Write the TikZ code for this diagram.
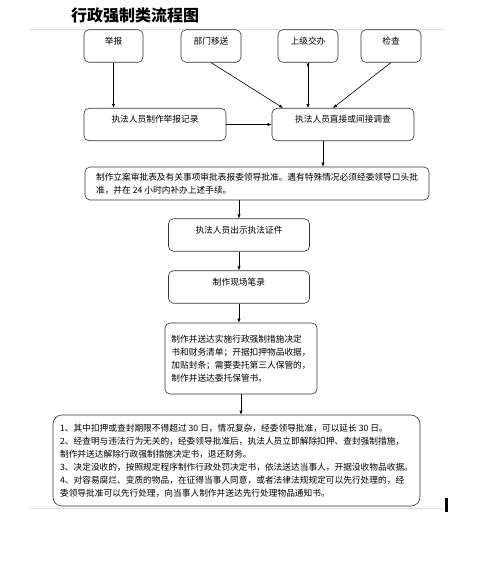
\documentclass[tikz,border=0pt]{standalone}
\usepackage{fontspec}
\setmainfont{Noto Sans CJK SC}
\usetikzlibrary{arrows.meta,positioning,calc,decorations.markings}

\tikzset{
  box/.style={draw=black!80, rounded corners=5pt, line width=0.6pt, font=\fontsize{8.7}{13}\selectfont},
  topbox/.style={box, inner ysep=0pt, text height=14.5pt, text depth=18pt},
  arr/.style={-{Latex[length=4pt,width=3.2pt]}, line width=0.6pt},
  midarr/.style={decoration={markings, mark=at position 5pt with {\arrow{Latex[length=4pt,width=3.2pt]}}}, postaction={decorate}},
}

\begin{document}
\begin{tikzpicture}[x=1pt,y=-1pt]
    \useasboundingbox (0,0) rectangle (486,570);
    \fill[white] (0,0) rectangle (486,570);

    % Title
    \node [font=\fontsize{16}{16}\selectfont\bfseries] (title) at (135,15) {行政强制类流程图};
    \draw [black!12, line width=0.8pt] (30,29) -- (444,29);

    % Sources
    \node [topbox, minimum width=59pt] (jubao) at (113.5,46) {举报};
    \node [topbox, minimum width=60pt] (bumen) at (211,46) {部门移送};
    \node [topbox, minimum width=60pt] (shangji) at (308,46) {上级交办};
    \node [topbox, minimum width=60pt] (jiancha) at (391,46) {检查};

    % Record / investigation
    \node [topbox, minimum width=142pt] (jilu) at (155,124.5) {执法人员制作举报记录};
    \node [topbox, minimum width=142pt] (diaocha) at (343,124.5) {执法人员直接或间接调查};
    \draw [arr] (jubao.south) -- (jubao.south |- jilu.north);
    \draw [arr] (bumen.south) -- ([xshift=-60pt]diaocha.north);
    \draw [arr, midarr] (shangji.south) -- (shangji.south |- diaocha.north);
    \draw [arr] (jiancha.south) -- ([xshift=-10pt]diaocha.north);
    \draw [arr] (jilu) -- (diaocha);

    % Approval
    \node [box, minimum width=344pt, minimum height=33pt, align=left] (lian) at (257,183.5)
        {制作立案审批表及有关事项审批表报委领导批准。遇有特殊情况必须经委领导口头批\\准，并在 24 小时内补办上述手续。};
    \coordinate (d1) at ([xshift=-20pt]diaocha.south);
    \draw [arr] (d1) -- (d1 |- lian.north);

    % On site
    \node [topbox, minimum width=141pt] (zhengjian) at (239,235) {执法人员出示执法证件};
    \node [topbox, minimum width=141pt] (bilu) at (239,287) {制作现场笔录};
    \draw [arr] (zhengjian.north |- lian.south) -- (zhengjian.north);
    \draw [arr] (zhengjian) -- (bilu);

    % Decision
    \node [box, minimum width=152pt, minimum height=71pt, align=left] (jueding) at (241,358.5)
        {制作并送达实施行政强制措施决定\\书和财务清单；开据扣押物品收据，\\加贴封条；需要委托第三人保管的，\\制作并送达委托保管书。};
    \draw [arr] (bilu.south) -- (bilu.south |- jueding.north);

    % Notes
    \node [box, rounded corners=9pt, minimum width=367pt, minimum height=91pt, align=left] (xuzhi) at (236.5,460.5)
        {1、其中扣押或查封期限不得超过 30 日，情况复杂，经委领导批准，可以延长 30 日。\\
         2、经查明与违法行为无关的，经委领导批准后，执法人员立即解除扣押、查封强制措施，\\
         制作并送达解除行政强制措施决定书，退还财务。\\
         3、决定没收的，按照规定程序制作行政处罚决定书，依法送达当事人，开据没收物品收据。\\
         4、对容易腐烂、变质的物品，在征得当事人同意，或者法律法规规定可以先行处理的，经\\
         委领导批准可以先行处理，向当事人制作并送达先行处理物品通知书。};
    \draw [arr] (jueding.south) -- (jueding.south |- xuzhi.north);

    \draw [black!12, line width=0.8pt] (30,508) -- (444,508);
    \fill [black] (445,498) rectangle (447.5,512);
\end{tikzpicture}
\end{document}
